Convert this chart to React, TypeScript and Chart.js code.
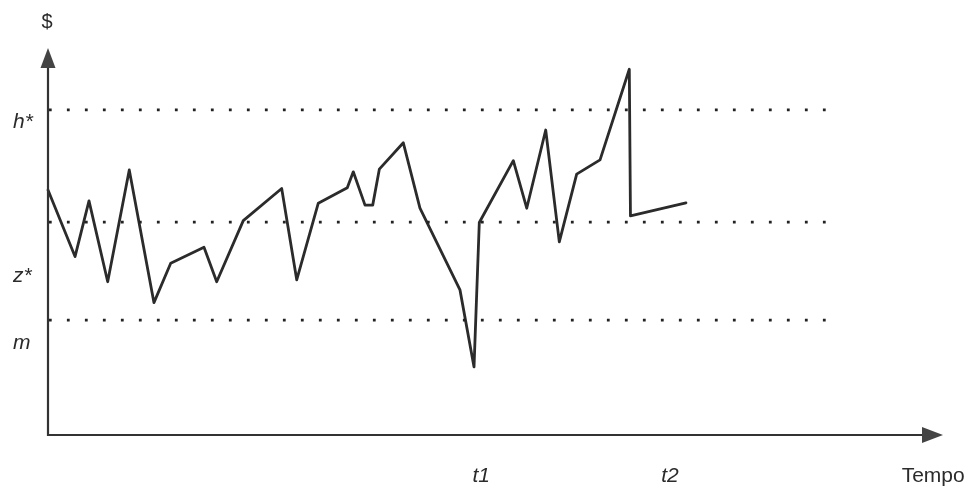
import React, { useEffect, useRef } from "react";
import { Chart, registerables } from "chart.js";

Chart.register(...registerables);

// Path of the cash balance over time (x: time units 0-100, y: $ units 0-100)
const pathX = [0, 3.02, 4.58, 6.67, 9.08, 11.84, 13.71, 17.43, 18.85, 21.82, 26.11, 27.79, 30.2, 33.44, 34.11, 35.42, 36.28, 37.02, 39.7, 41.56, 46.03, 47.6, 48.19, 51.99, 53.49, 55.61, 57.13, 59.07, 61.68, 64.95, 65.08, 71.28];
const pathY = [63.3, 46.1, 60.5, 39.6, 68.5, 34.2, 44.4, 48.5, 39.6, 55.4, 63.7, 40.1, 59.9, 63.9, 68.0, 59.4, 59.4, 68.7, 75.5, 58.6, 37.5, 17.6, 54.9, 70.9, 58.6, 78.8, 49.9, 67.4, 71.1, 94.5, 56.6, 60.0];

// Reference levels h*, z*, m
const levelNames = ["h*", "z*", "m"];
const levelValues = [84.0, 55.0, 29.7];
const levelEndX = 87.4;
// where each level's label sits on the y axis
const levelLabelY = [79.3, 39.5, 22.2];

// Time markers on the x axis
const timeNames = ["t1", "t2", "Tempo"];
const timeValues = [48.4, 69.5, 98.9];

const FONT = "'Liberation Sans', Arial, sans-serif";
const INK = "#2b2b2b";

const axesPlugin = {
  id: "arrowAxes",
  afterDraw(chart: any) {
    const { ctx } = chart;
    const xs = chart.scales.x;
    const ys = chart.scales.y;
    const left = xs.getPixelForValue(0);
    const bottom = ys.getPixelForValue(0);
    const right = xs.getPixelForValue(100);
    const top = ys.getPixelForValue(100);
    ctx.save();
    ctx.strokeStyle = "#333";
    ctx.fillStyle = "#444";
    ctx.lineWidth = 2.2;
    // y axis
    ctx.beginPath();
    ctx.moveTo(left, bottom + 1);
    ctx.lineTo(left, top + 14);
    ctx.stroke();
    ctx.beginPath();
    ctx.moveTo(left, top);
    ctx.lineTo(left - 7.5, top + 20);
    ctx.lineTo(left + 7.5, top + 20);
    ctx.closePath();
    ctx.fill();
    // x axis
    ctx.beginPath();
    ctx.moveTo(left - 1, bottom);
    ctx.lineTo(right - 14, bottom);
    ctx.stroke();
    ctx.beginPath();
    ctx.moveTo(right, bottom);
    ctx.lineTo(right - 21, bottom - 8);
    ctx.lineTo(right - 21, bottom + 8);
    ctx.closePath();
    ctx.fill();

    ctx.fillStyle = INK;
    // $ label
    ctx.font = `20px ${FONT}`;
    ctx.textAlign = "center";
    ctx.textBaseline = "alphabetic";
    ctx.fillText("$", left - 1, top - 20);
    // level labels
    ctx.font = `italic 21px ${FONT}`;
    ctx.textAlign = "left";
    levelNames.forEach((n, i) => {
      ctx.fillText(n, 13, ys.getPixelForValue(levelLabelY[i]));
    });
    // time labels
    timeNames.forEach((n, i) => {
      ctx.font = i < 2 ? `italic 21px ${FONT}` : `21px ${FONT}`;
      ctx.textAlign = "center";
      ctx.fillText(n, xs.getPixelForValue(timeValues[i]), bottom + 47);
    });
    ctx.restore();
  },
};

export default function App() {
  const ref = useRef<HTMLCanvasElement | null>(null);
  useEffect(() => {
    if (!ref.current) return;
    const path = pathX.map((x, i) => ({ x, y: pathY[i] }));
    const levelSets = levelValues.map((v, i) => ({
      label: levelNames[i],
      data: [
        { x: 0.1, y: v },
        { x: levelEndX, y: v },
      ],
      borderColor: "#222",
      borderWidth: 2.8,
      borderDash: [2.8, 15.2],
      borderCapStyle: "butt" as const,
      pointRadius: 0,
      fill: false,
      clip: false as any,
    }));
    const chart = new Chart(ref.current, {
      type: "line",
      data: {
        datasets: [
          ...levelSets,
          {
            label: "saldo",
            data: path,
            borderColor: INK,
            borderWidth: 2.8,
            borderJoinStyle: "round",
            borderCapStyle: "round",
            pointRadius: 0,
            tension: 0,
            fill: false,
            clip: false as any,
          },
        ],
      },
      options: {
        animation: false,
        responsive: false,
        maintainAspectRatio: false,
        events: [],
        layout: { padding: { left: 48, right: 26, top: 48, bottom: 51 } },
        plugins: { legend: { display: false }, tooltip: { enabled: false } },
        scales: {
          x: { type: "linear", min: 0, max: 100, display: false },
          y: { type: "linear", min: 0, max: 100, display: false },
        },
      },
      plugins: [axesPlugin],
    });
    return () => chart.destroy();
  }, []);
  return (
    <div style={{ position: "fixed", left: 0, top: 0, width: 969, height: 486, background: "#fff" }}>
      <canvas ref={ref} width={969} height={486} style={{ width: 969, height: 486 }} />
    </div>
  );
}
